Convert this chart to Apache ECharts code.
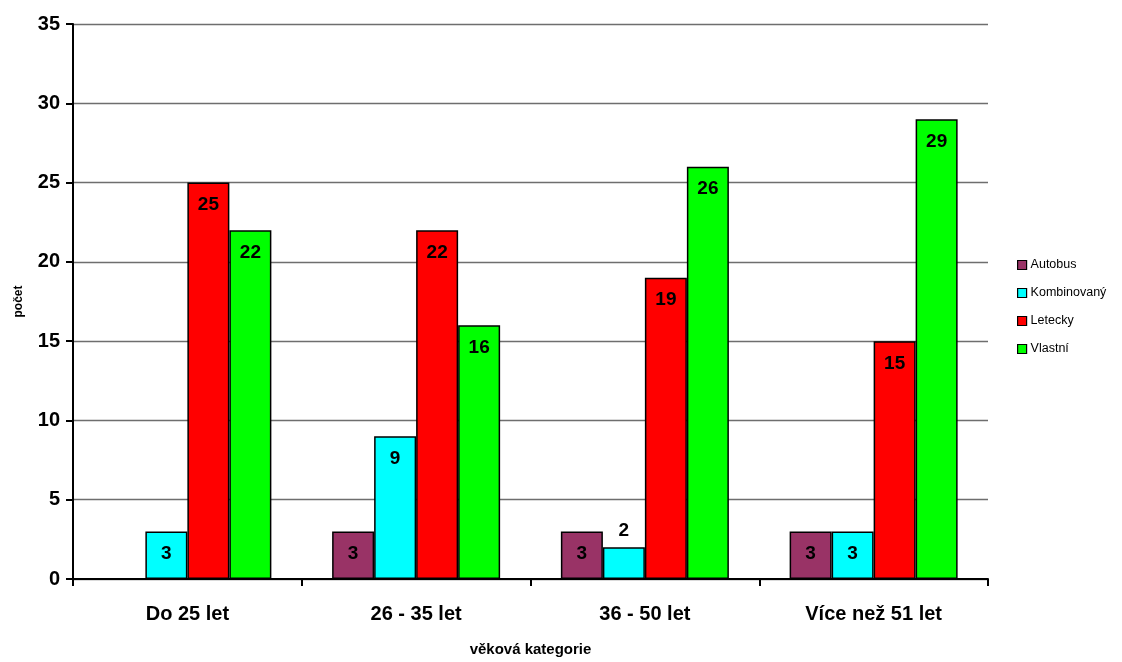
<!DOCTYPE html>
<html>
<head>
<meta charset="utf-8">
<script src="https://cdn.jsdelivr.net/npm/echarts@6/dist/echarts.min.js"></script>
<style>
  html, body { margin: 0; padding: 0; background: #ffffff; overflow: hidden; }
  #chart { width: 1122px; height: 662px; }
</style>
</head>
<body>
<div id="chart"></div>
<script>
// Age groups on the category axis
const categories = ['Do 25 let', '26 - 35 let', '36 - 50 let', 'Více než 51 let'];

// Counts per mode of transport (null = no answers in that group)
const autobus     = [null, 3, 3, 3];
const kombinovany = [3, 9, 2, 3];
const letecky     = [25, 22, 19, 15];
const vlastni     = [22, 16, 26, 29];

const seriesNames  = ['Autobus', 'Kombinovaný', 'Letecky', 'Vlastní'];
const seriesColors = ['#993366', '#00ffff', '#ff0000', '#00ff00'];
const seriesValues = [autobus, kombinovany, letecky, vlastni];

const FONT = '"Liberation Sans", Arial, sans-serif';

const chart = echarts.init(document.getElementById('chart'), null, { renderer: 'canvas' });

// Very short bars get their value label above the bar instead of inside it
function toData(values) {
  return values.map(v => {
    if (v === null) return '-';
    if (v <= 2) {
      return { value: v, label: { position: 'top', distance: 7 } };
    }
    return v;
  });
}

const series = seriesValues.map((vals, i) => ({
  name: seriesNames[i],
  type: 'bar',
  data: toData(vals),
  barWidth: 42,
  barGap: '0%',
  itemStyle: { color: seriesColors[i], borderColor: '#000000', borderWidth: 1.5 },
  label: {
    show: true,
    position: 'insideTop',
    distance: 13,
    color: '#000000',
    fontFamily: FONT,
    fontWeight: 'bold',
    fontSize: 19
  },
  emphasis: { disabled: true },
  animation: false
}));

chart.setOption({
  backgroundColor: '#ffffff',
  animation: false,
  grid: { left: 73, right: 134, top: 24, bottom: 77, containLabel: false },
  legend: {
    orient: 'vertical',
    left: 1017,
    top: 258,
    padding: 0,
    itemWidth: 9,
    itemHeight: 9,
    itemGap: 14,
    icon: 'rect',
    data: seriesNames.map((n, i) => ({
      name: n,
      itemStyle: { color: seriesColors[i], borderColor: '#000000', borderWidth: 1.2 }
    })),
    textStyle: { fontFamily: FONT, fontSize: 12.5, lineHeight: 14, color: '#000000', padding: [0, 0, 0, -1] }
  },
  xAxis: {
    type: 'category',
    data: categories,
    name: 'věková kategorie',
    nameLocation: 'middle',
    nameGap: 63,
    nameTextStyle: { fontFamily: FONT, fontWeight: 'bold', fontSize: 15, color: '#000000' },
    axisLine: { show: true, lineStyle: { color: '#000000', width: 2 } },
    axisTick: { show: true, alignWithLabel: false, length: 7, lineStyle: { color: '#000000', width: 2 } },
    axisLabel: { fontFamily: FONT, fontWeight: 'bold', fontSize: 20, color: '#000000', margin: 25 }
  },
  yAxis: {
    type: 'value',
    min: 0,
    max: 35,
    interval: 5,
    name: 'počet',
    nameLocation: 'middle',
    nameGap: 48,
    nameRotate: 90,
    nameTextStyle: { fontFamily: FONT, fontWeight: 'bold', fontSize: 12, color: '#000000' },
    axisLine: { show: true, lineStyle: { color: '#000000', width: 2 } },
    axisTick: { show: true, length: 7, lineStyle: { color: '#000000', width: 2 } },
    axisLabel: { fontFamily: FONT, fontWeight: 'bold', fontSize: 20, color: '#000000', margin: 13 },
    splitLine: { show: true, lineStyle: { color: '#6e6e6e', width: 1.3 } }
  },
  series: series
});
</script>
</body>
</html>
